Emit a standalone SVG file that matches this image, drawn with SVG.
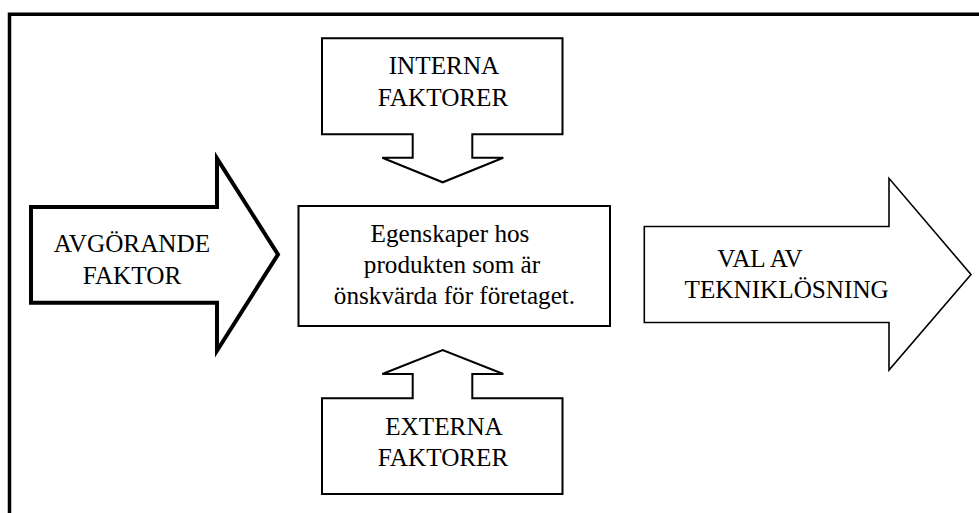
<svg xmlns="http://www.w3.org/2000/svg" width="979" height="513" viewBox="0 0 979 513">
<style>
.s{fill:#fff;stroke:#000;stroke-linejoin:miter}
text{font-family:'Liberation Serif','Times New Roman',Times,serif;font-size:25.2px;fill:#000;text-anchor:middle}
</style>
<rect width="979" height="513" fill="#fff"/>
<path id="frame" d="M9.5,513 V14.3 H979" fill="none" stroke="#000" stroke-width="3.5"/>
<g id="connectors"></g>
<g id="avgorande">
<polygon class="s" stroke-width="4" points="31,207 217,207 217,158.5 278,254.5 217,350.7 217,302.7 31,302.7"/>
<text x="132" y="252.3">AVGÖRANDE</text>
<text x="132" y="284">FAKTOR</text>
</g>
<g id="interna">
<polygon class="s" stroke-width="2" points="322,38.3 562.5,38.3 562.5,134.3 472.3,134.3 472.3,157.7 503.3,157.7 442.7,182.3 382.3,157.7 412.7,157.7 412.7,134.3 322,134.3"/>
<text x="444" y="74.3">INTERNA</text>
<text x="443" y="106">FAKTORER</text>
</g>
<g id="egenskaper">
<rect class="s" stroke-width="2" x="298.5" y="206" width="311.5" height="120"/>
<text x="450" y="241.7">Egenskaper hos</text>
<text x="452" y="273.2">produkten som är</text>
<text x="454.5" y="304">önskvärda för företaget.</text>
</g>
<g id="externa">
<polygon class="s" stroke-width="2" points="322,494 322,398.3 412.7,398.3 412.7,374 382.3,374 442.7,350 503.3,374 472.3,374 472.3,398.3 562.5,398.3 562.5,494"/>
<text x="444" y="435">EXTERNA</text>
<text x="443" y="466">FAKTORER</text>
</g>
<g id="val">
<polygon class="s" stroke-width="1.6" points="644.3,226.5 889,226.5 889,178.3 971,274.5 889,370 889,322.5 644.3,322.5"/>
<text x="760" y="267.3">VAL AV</text>
<text x="786.7" y="298.3">TEKNIKLÖSNING</text>
</g>
</svg>
